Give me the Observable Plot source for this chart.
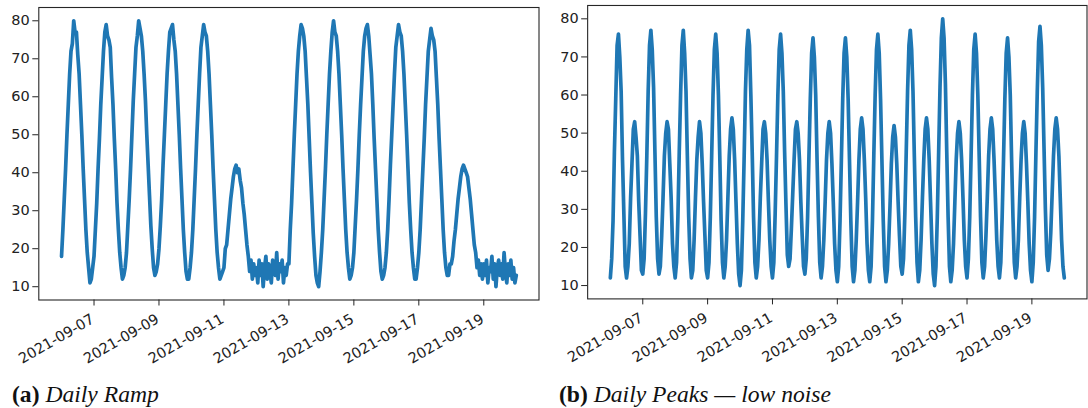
<!DOCTYPE html>
<html>
<head>
<meta charset="utf-8">
<script src="https://cdn.jsdelivr.net/npm/d3@7"></script>
<script src="https://cdn.jsdelivr.net/npm/@observablehq/plot@0.6"></script>
<style>
  html, body { margin: 0; padding: 0; background: #fff; }
  body { width: 1088px; height: 408px; overflow: hidden; position: relative; }
  .panel { position: absolute; top: 0; }
  .cap {
    position: absolute; top: 383px; white-space: nowrap;
    font-family: "Liberation Serif", "Times New Roman", serif;
    font-size: 23.6px; line-height: 1; color: #111;
  }
  .cap i { font-style: italic; }
</style>
</head>
<body>
<div id="ramp" class="panel" style="left:0px"></div>
<div id="peaks" class="panel" style="left:545px"></div>
<div class="cap" style="left:12px"><b>(a)</b> <i>Daily Ramp</i></div>
<div class="cap" style="left:559px"><b>(b)</b> <i>Daily Peaks — low noise</i></div>
<script>
// Hourly readings, one row per day, starting at midnight UTC.
const startTime = "2021-09-06T00:00:00Z";
const dateTicks = ["2021-09-07", "2021-09-09", "2021-09-11", "2021-09-13", "2021-09-15", "2021-09-17", "2021-09-19"];
const yTicks = [10, 20, 30, 40, 50, 60, 70, 80];

// (a) weekday ramps, reduced Saturday, idle Sunday
const rampDays = [
  [18, 25, 33, 41, 50, 58, 66, 72, 74, 80, 77, 77, 71, 66, 58, 50, 41, 33, 25, 19, 15, 11, 12, 15],
  [18, 25, 32, 41, 49, 58, 65, 72, 77, 79, 76, 75, 73, 65, 58, 49, 41, 32, 25, 19, 15, 12, 13, 15],
  [19, 26, 33, 41, 50, 59, 66, 73, 76, 80, 78, 76, 72, 66, 59, 50, 42, 34, 26, 20, 15, 13, 14, 16],
  [20, 26, 33, 42, 50, 58, 66, 72, 77, 78, 79, 75, 72, 66, 58, 50, 41, 33, 25, 19, 14, 12, 12, 15],
  [19, 25, 33, 41, 50, 58, 66, 73, 76, 79, 77, 76, 72, 66, 58, 50, 41, 33, 25, 19, 15, 12, 13, 14],
  [15, 20, 21, 25, 29, 33, 36, 39, 41, 42, 40, 41, 38, 36, 32, 29, 25, 21, 18, 14, 17, 12, 16, 13],
  [15, 11, 17, 13, 16, 10, 15, 18, 12, 16, 14, 11, 17, 15, 13, 19, 12, 16, 14, 17, 11, 15, 13, 16],
  [16, 25, 32, 41, 50, 58, 66, 72, 76, 79, 78, 76, 72, 65, 58, 49, 40, 32, 24, 18, 13, 11, 10, 14],
  [19, 25, 33, 41, 50, 58, 66, 72, 77, 80, 77, 76, 72, 66, 58, 50, 41, 33, 25, 19, 15, 12, 13, 15],
  [19, 26, 33, 41, 50, 58, 65, 72, 76, 78, 79, 76, 71, 66, 58, 49, 41, 33, 25, 19, 14, 12, 13, 15],
  [19, 25, 33, 42, 50, 58, 66, 73, 76, 79, 77, 76, 72, 66, 58, 50, 41, 32, 25, 19, 15, 12, 12, 15],
  [19, 25, 33, 41, 49, 58, 65, 72, 75, 78, 76, 75, 72, 65, 58, 49, 41, 33, 25, 19, 15, 13, 13, 16],
  [16, 18, 22, 25, 29, 33, 36, 39, 41, 42, 41, 40, 39, 36, 33, 29, 25, 21, 19, 15, 17, 13, 16, 12],
  [16, 13, 17, 11, 15, 14, 18, 12, 16, 10, 15, 17, 13, 16, 12, 19, 14, 11, 16, 13, 17, 12, 15, 11]
];
const rampLast = 13;

// (b) a large morning peak and a smaller evening peak every day
const peakDays = [
  [12, 17, 27, 45, 59, 73, 76, 70, 61, 43, 29, 15, 12, 15, 21, 33, 42, 51, 53, 49, 44, 32, 23, 14],
  [13, 17, 29, 44, 61, 73, 77, 72, 62, 45, 28, 17, 13, 15, 23, 33, 44, 50, 53, 51, 42, 33, 21, 15],
  [12, 16, 28, 45, 60, 73, 77, 71, 61, 44, 28, 17, 12, 14, 22, 33, 43, 49, 53, 50, 42, 32, 23, 14],
  [12, 16, 28, 44, 60, 72, 76, 71, 60, 44, 27, 16, 12, 15, 22, 33, 44, 51, 54, 51, 43, 32, 21, 13],
  [10, 14, 27, 43, 61, 72, 77, 73, 60, 45, 28, 16, 12, 15, 22, 33, 42, 51, 53, 50, 43, 32, 22, 15],
  [12, 16, 29, 44, 60, 72, 76, 71, 61, 45, 31, 18, 15, 17, 25, 34, 43, 51, 53, 50, 43, 32, 23, 15],
  [13, 17, 28, 44, 59, 71, 75, 70, 60, 43, 28, 16, 12, 15, 22, 32, 43, 50, 53, 50, 42, 32, 21, 14],
  [11, 15, 27, 43, 59, 71, 75, 70, 59, 43, 27, 15, 11, 14, 22, 32, 43, 51, 54, 51, 43, 33, 21, 14],
  [11, 15, 27, 44, 60, 72, 76, 71, 59, 43, 27, 15, 11, 14, 21, 31, 42, 49, 52, 49, 42, 32, 23, 15],
  [13, 17, 29, 45, 61, 73, 77, 72, 61, 44, 28, 16, 11, 14, 22, 33, 43, 51, 54, 51, 43, 32, 21, 13],
  [10, 15, 28, 45, 62, 75, 80, 75, 63, 45, 28, 15, 11, 14, 21, 32, 43, 50, 53, 50, 43, 33, 22, 15],
  [12, 17, 28, 44, 60, 72, 76, 71, 60, 44, 28, 16, 12, 15, 23, 33, 44, 51, 54, 51, 43, 33, 22, 15],
  [12, 16, 28, 43, 59, 71, 75, 70, 60, 43, 28, 16, 12, 15, 22, 33, 43, 50, 53, 50, 42, 32, 21, 14],
  [11, 16, 28, 45, 61, 74, 78, 73, 62, 46, 30, 18, 14, 17, 24, 34, 44, 51, 54, 51, 44, 33, 22, 15]
];
const peakLast = 12;

function hourlySeries(days, last) {
  const t0 = new Date(startTime).getTime();
  return days.flat().concat(last).map((v, i) => ({ date: new Date(t0 + i * 3600e3), value: v }));
}

// matplotlib-style 5% padding around the data extent
function padded([lo, hi], f = 0.05) {
  const d = (hi - lo) * f;
  return [lo - d, hi + d];
}

function panel(data, { width, marginLeft, marginRight, marginTop }) {
  const height = 370;
  const xDomain = padded(d3.extent(data, d => +d.date)).map(t => new Date(t));
  const yDomain = padded(d3.extent(data, d => d.value));
  const tickDates = dateTicks.map(s => new Date(s + "T00:00:00Z"));
  return Plot.plot({
    width, height,
    marginLeft, marginRight, marginTop,
    marginBottom: height - 299.5,
    style: { fontFamily: "DejaVu Sans, sans-serif", fontSize: "14.5px", color: "#222", background: "white", overflow: "visible" },
    x: { type: "utc", domain: xDomain, label: null },
    y: { domain: yDomain, label: null },
    marks: [
      Plot.lineY(data, { x: "date", y: "value", stroke: "#1f77b4", strokeWidth: 3.7, strokeLinejoin: "round" }),
      Plot.frame({ stroke: "#262626", strokeWidth: 1.1 }),
      Plot.axisY({ ticks: yTicks, tickSize: 6, tickPadding: 3, tickFormat: d => String(d), label: null }),
      Plot.axisX({ ticks: tickDates, tickSize: 6, tickFormat: () => "", label: null }),
      Plot.axisX({
        ticks: tickDates, tickSize: 0, tickPadding: 13, tickRotate: -30,
        textAnchor: "end", lineAnchor: "top", dx: -4,
        tickFormat: d3.utcFormat("%Y-%m-%d"), label: null
      })
    ]
  });
}

document.getElementById("ramp").append(
  panel(hourlySeries(rampDays, rampLast), { width: 544, marginLeft: 38.3, marginRight: 5.5, marginTop: 7 })
);
document.getElementById("peaks").append(
  panel(hourlySeries(peakDays, peakLast), { width: 545, marginLeft: 42.3, marginRight: 1.5, marginTop: 5 })
);
</script>
</body>
</html>
